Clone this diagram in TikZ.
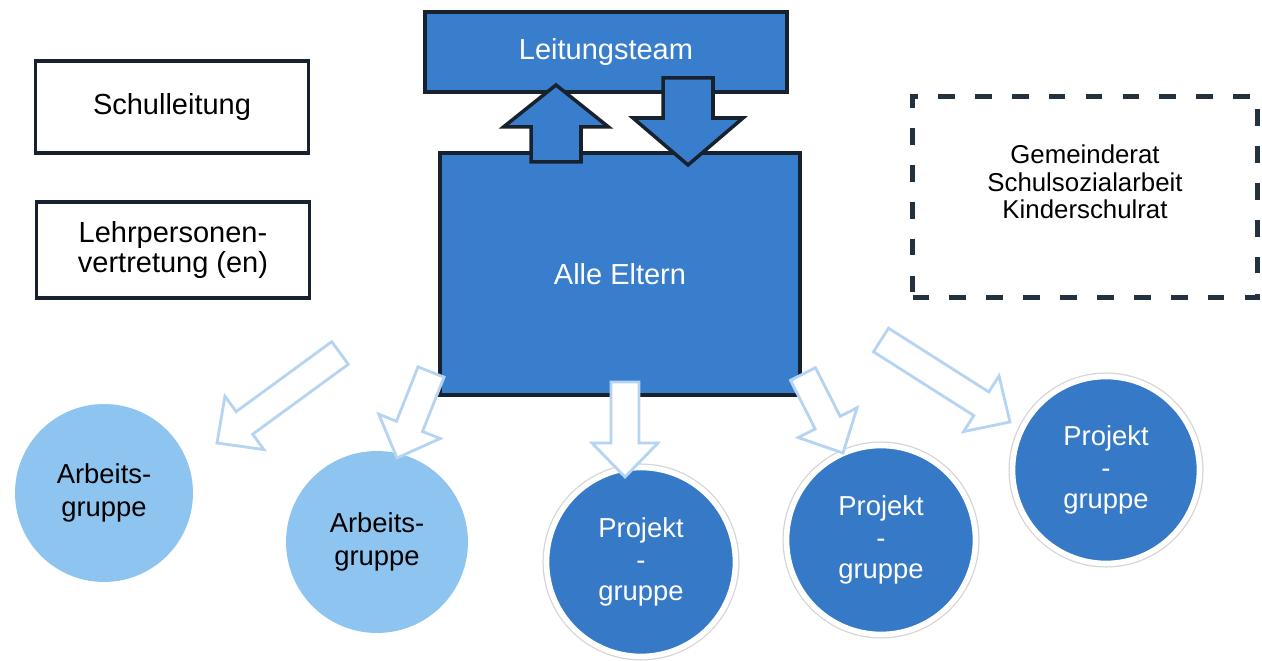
\documentclass[tikz,border=0pt]{standalone}
\usepackage{fontspec}
\setmainfont{Liberation Sans}
\usepackage{tikz}
\usetikzlibrary{calc,positioning}

\definecolor{boxblue}{RGB}{57,126,204}
\definecolor{projblue}{RGB}{53,121,199}
\definecolor{lightblue}{RGB}{142,196,240}
\definecolor{arrowline}{RGB}{180,212,242}
\definecolor{darkline}{RGB}{24,34,46}
\definecolor{dashline}{RGB}{36,50,64}
\definecolor{ringgray}{RGB}{212,212,212}

\begin{document}
\begin{tikzpicture}[x=0.02cm, y=-0.02cm,
  bluebox/.style={draw=darkline, line width=2.2pt, fill=boxblue, text=white, inner sep=0pt,
    font=\fontsize{16.5}{17}\selectfont},
  plainbox/.style={draw=darkline, line width=1.8pt, fill=white, inner sep=0pt, align=center,
    minimum width=5.45cm, font=\fontsize{16.5}{17}\selectfont},
  dashbox/.style={draw=dashline, line width=2.8pt, dash pattern=on 9.5pt off 11.5pt, inner sep=0pt},
  agcircle/.style={circle, fill=lightblue, inner sep=0pt, align=center,
    font=\fontsize{15.6}{18.5}\selectfont},
  pgcircle/.style={circle, fill=projblue, draw=white, line width=3.2pt,
    preaction={draw=ringgray, line width=4.6pt}, text=white, inner sep=0pt, align=center,
    font=\fontsize{15.6}{18}\selectfont},
  blockarrow/.style={draw=darkline, line width=2pt, fill=boxblue, line join=miter},
  hollowarrow/.style={draw=arrowline, line width=1.6pt, fill=white, line join=miter}
]
  \useasboundingbox (0,0) rectangle (1262,661);

  % ----------------------
  % Kasten links
  % ----------------------
  \node[plainbox, minimum height=1.84cm] (schulleitung) at (172,107) {Schulleitung};
  \node[plainbox, minimum height=1.92cm] (lehrpersonen) at (173,250) {Lehrpersonen-\\vertretung (en)};

  % ----------------------
  % Leitungsteam und Eltern
  % ----------------------
  \node[bluebox, minimum width=7.24cm, minimum height=1.6cm] (leitung) at (606,52) {Leitungsteam};
  \node[bluebox, minimum width=7.2cm, minimum height=4.84cm] (eltern) at (620,274) {Alle Eltern};

  % ----------------------
  % Kasten rechts (gestrichelt)
  % ----------------------
  \node[dashbox, minimum width=6.9cm, minimum height=4.02cm] (extern) at (1085,197) {};
  \node[align=center, font=\fontsize{14.7}{15.6}\selectfont] (externtxt) at (1085,182)
    {Gemeinderat\\Schulsozialarbeit\\Kinderschulrat};

  % ----------------------
  % Gruppen
  % ----------------------
  \node[agcircle, minimum size=3.56cm] (ag1) at (104,493) {Arbeits-\\gruppe};
  \node[agcircle, minimum size=3.64cm] (ag2) at (377,542) {Arbeits-\\gruppe};
  \node[pgcircle, minimum size=3.78cm] (pg1) at (641,562) {Projekt\\-\\gruppe};
  \node[pgcircle, minimum size=3.78cm] (pg2) at (881,540) {Projekt\\-\\gruppe};
  \node[pgcircle, minimum size=3.74cm] (pg3) at (1106,470) {Projekt\\-\\gruppe};

  % ----------------------
  % Pfeilenden
  % ----------------------
  \coordinate (upS) at (556,162);  \coordinate (upT) at (556,85);
  \coordinate (dnS) at (688,78);   \coordinate (dnT) at (688,165);
  \coordinate (a1S) at (340,353);  \coordinate (a1T) at (217,443);
  \coordinate (a2S) at (431,372);  \coordinate (a2T) at (397,458);
  \coordinate (a3S) at (625,382);  \coordinate (a3T) at (625,477);
  \coordinate (a4S) at (803,374);  \coordinate (a4T) at (843,453);
  \coordinate (a5S) at (881,340);  \coordinate (a5T) at (1010,422);

  % ----------------------
  % helle Pfeile zu den Gruppen
  % ----------------------
  \foreach \src/\dst in {a1S/a1T, a2S/a2T, a3S/a3T, a4S/a4T, a5S/a5T}{
    \coordinate (hb) at ($(\dst)!0.68cm!(\src)$);
    \draw[hollowarrow] ($(\src)!0.28cm!90:(\dst)$) -- ($(hb)!0.28cm!90:(\dst)$)
      -- ($(hb)!0.66cm!90:(\dst)$) -- (\dst) -- ($(hb)!0.66cm!-90:(\dst)$)
      -- ($(hb)!0.28cm!-90:(\dst)$) -- ($(\src)!0.28cm!-90:(\dst)$) -- cycle;
  }

  % ----------------------
  % Blockpfeile Eltern <-> Leitungsteam
  % ----------------------
  \foreach \src/\dst/\sw/\hw/\hl in {upS/upT/0.5cm/1.05cm/0.84cm, dnS/dnT/0.5cm/1.1cm/0.94cm}{
    \coordinate (hb) at ($(\dst)!\hl!(\src)$);
    \draw[blockarrow] ($(\src)!\sw!90:(\dst)$) -- ($(hb)!\sw!90:(\dst)$)
      -- ($(hb)!\hw!90:(\dst)$) -- (\dst) -- ($(hb)!\hw!-90:(\dst)$)
      -- ($(hb)!\sw!-90:(\dst)$) -- ($(\src)!\sw!-90:(\dst)$) -- cycle;
  }

\end{tikzpicture}
\end{document}
